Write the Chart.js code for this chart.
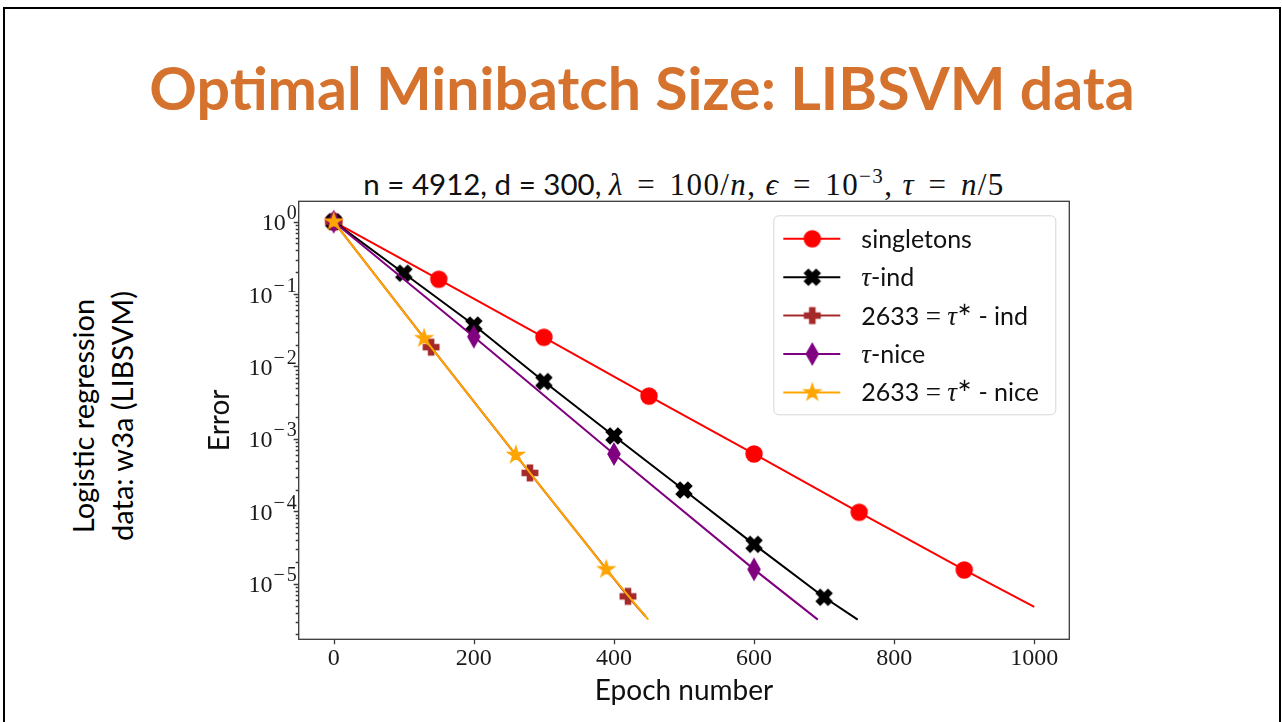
<!DOCTYPE html>
<html>
<head>
<meta charset="utf-8">
<script src="https://cdn.jsdelivr.net/npm/chart.js@4.4.1/dist/chart.umd.min.js"></script>
<style>
  body { margin: 0; background: #fff; }
  #slide { position: relative; width: 1282px; height: 722px; overflow: hidden; background: #fff; }
  #frame { position: absolute; left: 3px; top: 7px; width: 1274px; height: 800px; border: 2px solid #000; }
  #slideTitle { position: absolute; left: 0; top: 52px; width: 1284px; text-align: center;
    font: bold 59px Lato, sans-serif; line-height: 72px; color: #d4722e; white-space: nowrap; }
  #sideLabel { position: absolute; left: -48px; top: 377px; width: 300px; height: 78px; text-align: center;
    font: 29px Lato, sans-serif; line-height: 39px; color: #000; transform: rotate(-90deg); }
  #chartTitle { position: absolute; left: 184px; top: 168px; width: 1000px; text-align: center;
    font: 31px "Liberation Serif", serif; line-height: 32px; color: #111; white-space: nowrap; letter-spacing: 1.4px; }
  #chartTitle .sf { font-family: Lato, sans-serif; font-size: 29.5px; letter-spacing: 0; }
  #chartTitle .rel { margin: 0 0.14em; }
  #chartTitle sup { font-size: 21px; vertical-align: 12px; line-height: 0; }
  #c { position: absolute; left: 0; top: 0; }
</style>
</head>
<body>
<div id="slide">
  <div id="frame"></div>
  <div id="slideTitle">Optimal Minibatch Size: LIBSVM data</div>
  <div id="sideLabel">Logistic regression<br>data: w3a (LIBSVM)</div>
  <div id="chartTitle"><span class="sf">n = 4912, d = 300, </span><i>λ</i> <span class="rel">=</span> 100/<i>n</i>, <i>ϵ</i> <span class="rel">=</span> 10<sup>−3</sup>, <i>τ</i> <span class="rel">=</span> <i>n</i>/5</div>
  <canvas id="c" width="1282" height="722"></canvas>
</div>
<script>
// error curves (last point = end of the line, no marker)
const epochTicks = [0, 200, 400, 600, 800, 1000];
const errorDecades = [0, -1, -2, -3, -4, -5];

const singletonsX = [0, 150, 300, 450, 600, 750, 900, 1000];
const singletonsY = [1, 0.16, 0.0253, 0.0039, 6.2e-4, 9.7e-5, 1.55e-5, 4.8e-6];
const tauIndX = [0, 100, 200, 300, 400, 500, 600, 700, 748];
const tauIndY = [1, 0.194, 0.0374, 0.0062, 1.1e-3, 1.97e-4, 3.5e-5, 6.5e-6, 3.2e-6];
const optIndX = [0, 139, 280, 420, 445];
const optIndY = [1, 0.0185, 3.39e-4, 6.7e-6, 3.56e-6];
const tauNiceX = [0, 200, 400, 600, 691];
const tauNiceY = [1, 0.0258, 6.2e-4, 1.58e-5, 3.2e-6];
const optNiceX = [0, 129, 260, 389, 449];
const optNiceY = [1, 0.0245, 6.0e-4, 1.58e-5, 3.2e-6];

const seriesNames = ['singletons', 'τ-ind', '2633 = τ* - ind', 'τ-nice', '2633 = τ* - nice'];

const SANS = 'Lato, sans-serif';
const SERIF = '"Liberation Serif", serif';

function markerCanvas(size, color, path) {
    const c = document.createElement('canvas');
    c.width = size; c.height = size;
    const g = c.getContext('2d');
    g.translate(size / 2, size / 2);
    g.fillStyle = color; g.strokeStyle = color; g.lineWidth = 1.4; g.lineJoin = 'miter';
    g.beginPath();
    path(g);
    g.closePath();
    g.fill(); g.stroke();
    return c;
}

function polygon(g, pts) {
    pts.forEach((p, i) => i ? g.lineTo(p[0], p[1]) : g.moveTo(p[0], p[1]));
}

// matplotlib style filled plus, optionally rotated 45deg for the 'X'
function plusPts(s, rot) {
    const base = [[-1, -3], [1, -3], [1, -1], [3, -1], [3, 1], [1, 1], [1, 3], [-1, 3], [-1, 1], [-3, 1], [-3, -1], [-1, -1]];
    const c = Math.cos(rot), sn = Math.sin(rot);
    return base.map(([x, y]) => [(x * c - y * sn) * s / 6, (x * sn + y * c) * s / 6]);
}

function starPts(r) {
    const pts = [];
    for (let i = 0; i < 10; i++) {
        const rr = i % 2 ? r * 0.382 : r;
        const a = -Math.PI / 2 + i * Math.PI / 5;
        pts.push([rr * Math.cos(a), rr * Math.sin(a)]);
    }
    return pts;
}

const markers = [
    markerCanvas(22, '#ff0000', g => g.arc(0, 0, 8, 0, Math.PI * 2)),
    markerCanvas(22, '#000000', g => polygon(g, plusPts(16.5, Math.PI / 4))),
    markerCanvas(22, '#a52a2a', g => polygon(g, plusPts(15.5, 0))),
    markerCanvas(26, '#800080', g => polygon(g, [[0, -10.5], [6, 0], [0, 10.5], [-6, 0]])),
    markerCanvas(22, '#ffa500', g => polygon(g, starPts(8.6)))
];
const colors = ['#ff0000', '#000000', '#a52a2a', '#800080', '#ffa500'];
const xs = [singletonsX, tauIndX, optIndX, tauNiceX, optNiceX];
const ys = [singletonsY, tauIndY, optIndY, tauNiceY, optNiceY];

const datasets = seriesNames.map((name, i) => ({
    label: name,
    data: xs[i].map((x, j) => ({ x: x, y: ys[i][j] })),
    showLine: true,
    borderColor: colors[i],
    backgroundColor: colors[i],
    borderWidth: 2,
    pointStyle: markers[i],
    pointRadius: ctx => ctx.dataIndex === xs[i].length - 1 ? 0 : 8,
    pointHoverRadius: 0,
    order: seriesNames.length - i
}));

// draw text runs with mixed fonts, y is the baseline
function drawRuns(ctx, runs, x, y) {
    runs.forEach(r => {
        ctx.font = r.font;
        x += r.gap || 0;
        ctx.fillText(r.t, x, y - (r.up || 0));
        x += ctx.measureText(r.t).width;
    });
}

function runsWidth(ctx, runs) {
    let w = 0;
    runs.forEach(r => { ctx.font = r.font; w += (r.gap || 0) + ctx.measureText(r.t).width; });
    return w;
}

function legendRuns(label) {
    const runs = [];
    for (const ch of label) {
        let run;
        if (ch === 'τ') run = { t: ch, font: 'italic 27px ' + SERIF };
        else if (ch === '*') run = { t: '∗', font: '18px ' + SERIF, up: 10 };
        else if (ch === '=') run = { t: '=', font: '27px ' + SERIF };
        else run = { t: ch, font: '25px ' + SANS };
        const last = runs[runs.length - 1];
        if (last && last.font === run.font && !run.up && !last.up) last.t += run.t;
        else runs.push(run);
    }
    return runs;
}

const axesPlugin = {
    id: 'mplAxes',
    afterDraw(chart) {
        const { ctx, chartArea: a } = chart;
        const xScale = chart.scales.x, yScale = chart.scales.y;
        ctx.save();
        ctx.strokeStyle = '#3a3a3a';
        ctx.lineWidth = 1.3;
        ctx.strokeRect(a.left, a.top, a.right - a.left, a.bottom - a.top);

        ctx.beginPath();
        epochTicks.forEach(v => {
            const px = Math.round(xScale.getPixelForValue(v)) + 0.5;
            ctx.moveTo(px, a.bottom); ctx.lineTo(px, a.bottom + 5);
        });
        for (let e = -7; e <= 0; e++) {
            for (let k = 1; k <= 9; k++) {
                const v = k * Math.pow(10, e);
                if (v < yScale.min || v > yScale.max) continue;
                const py = Math.round(yScale.getPixelForValue(v)) + 0.5;
                ctx.moveTo(a.left, py); ctx.lineTo(a.left - (k === 1 ? 5 : 3), py);
            }
        }
        ctx.stroke();

        // y tick labels 10^k
        ctx.fillStyle = '#1a1a1a';
        ctx.textBaseline = 'alphabetic';
        errorDecades.forEach(e => {
            const py = yScale.getPixelForValue(Math.pow(10, e));
            const runs = [{ t: '10', font: '24px ' + SERIF }];
            if (e < 0) runs.push({ t: '−', font: '20px ' + SERIF, up: 11, gap: 1 });
            runs.push({ t: String(-e), font: '20px ' + SERIF, up: 11, gap: e < 0 ? 2 : 1 });
            drawRuns(ctx, runs, a.left - 2 - runsWidth(ctx, runs), py + 8.5);
        });

        // legend
        const boxW = 282, boxH = 199;
        const bx = a.right - 14 - boxW, by = a.top + 14;
        ctx.beginPath();
        ctx.roundRect(bx + 0.5, by + 0.5, boxW, boxH, 5);
        ctx.fillStyle = 'rgba(255,255,255,0.8)';
        ctx.fill();
        ctx.strokeStyle = '#d6d6d6';
        ctx.lineWidth = 1;
        ctx.stroke();
        seriesNames.forEach((name, i) => {
            const cy = by + 23.5 + i * 38.4;
            ctx.beginPath();
            ctx.strokeStyle = colors[i];
            ctx.lineWidth = 2;
            ctx.moveTo(bx + 10, cy); ctx.lineTo(bx + 67, cy);
            ctx.stroke();
            const m = markers[i];
            ctx.drawImage(m, bx + 39 - m.width / 2, cy - m.height / 2);
            ctx.fillStyle = '#111';
            drawRuns(ctx, legendRuns(name), bx + 88, cy + 9);
        });
        ctx.restore();
    }
};

new Chart(document.getElementById('c'), {
    type: 'scatter',
    data: { datasets: datasets },
    options: {
        responsive: false,
        animation: false,
        events: [],
        layout: { padding: { left: 190, top: 201.3, right: 212.7, bottom: 10 } },
        plugins: { legend: { display: false }, tooltip: { enabled: false } },
        scales: {
            x: {
                type: 'linear', min: -50, max: 1050,
                afterBuildTicks: s => { s.ticks = epochTicks.map(v => ({ value: v })); },
                afterFit: s => { s.height = 72.7; },
                grid: { display: false, drawTicks: false },
                border: { display: false },
                ticks: { font: { family: SERIF, size: 24 }, color: '#1a1a1a', padding: 5, maxRotation: 0,
                    callback: v => String(v) },
                title: { display: true, text: 'Epoch number', color: '#111',
                    font: { family: SANS, size: 28 }, padding: { top: 4, bottom: 4 } }
            },
            y: {
                type: 'logarithmic', min: 1.71e-6, max: 1.91,
                afterFit: s => { s.width = 108.7; },
                grid: { display: false, drawTicks: false },
                border: { display: false },
                ticks: { display: false },
                title: { display: true, text: 'Error', color: '#111',
                    font: { family: SANS, size: 28 }, padding: { top: 13, bottom: 0 } }
            }
        }
    },
    plugins: [axesPlugin]
});
</script>
</body>
</html>
